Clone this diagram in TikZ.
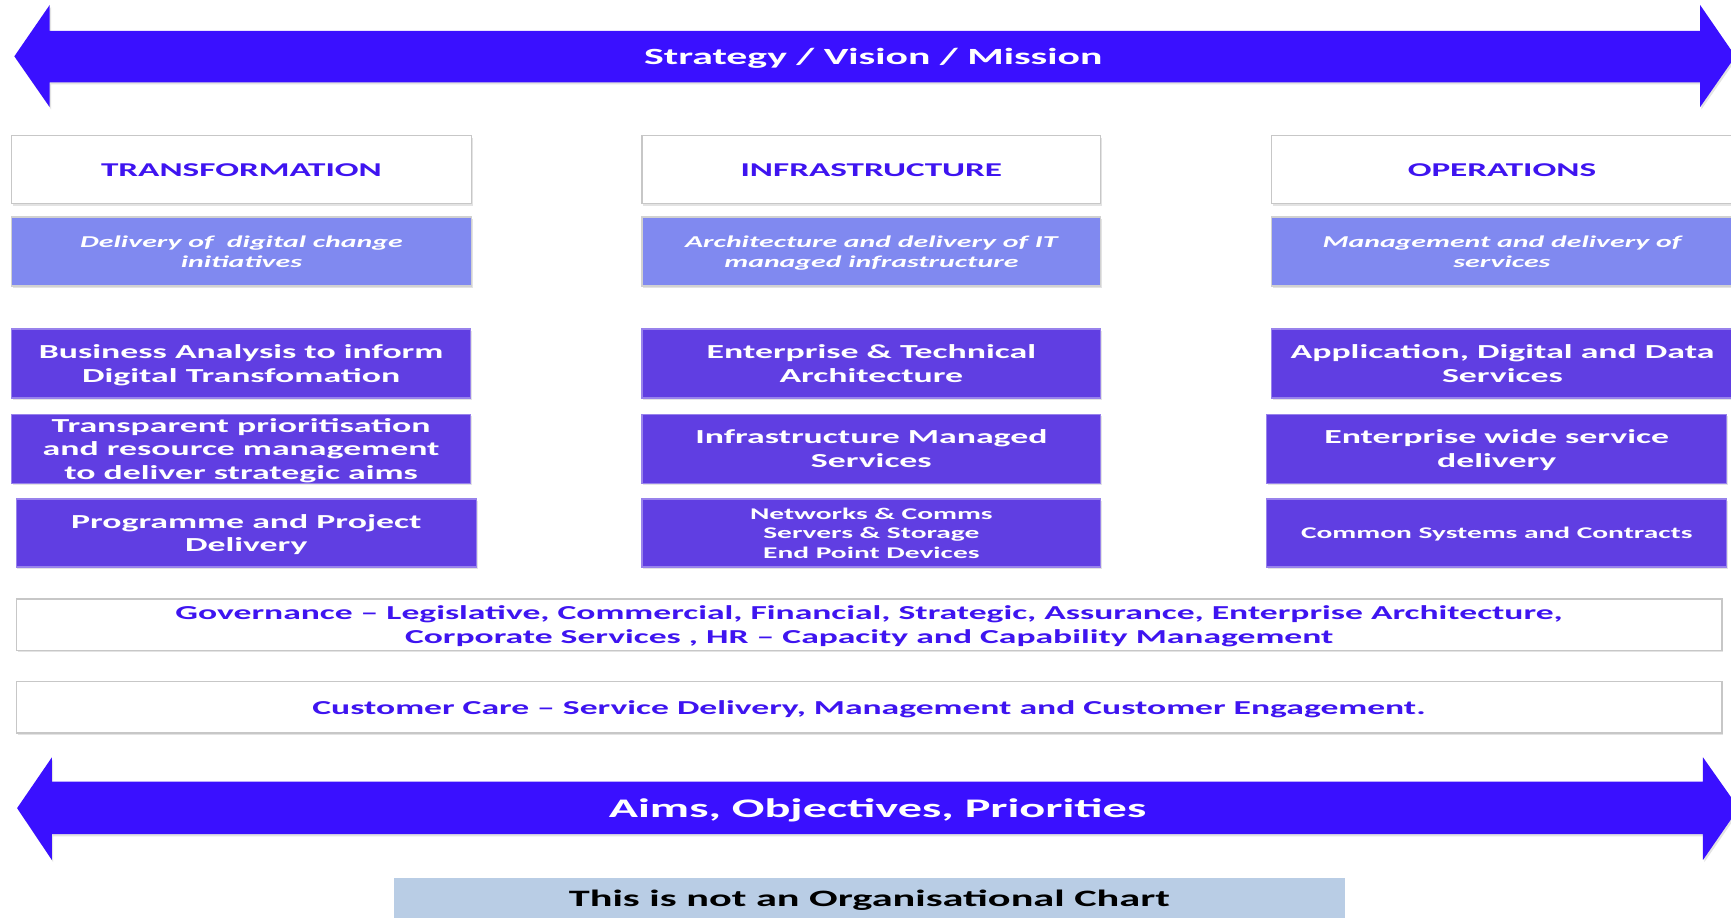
\documentclass[tikz,border=0pt]{standalone}
\usepackage{fontspec}
\setmainfont{Carlito}
% wide Calibri-like face used for every label
\newfontfamily\widefont{Carlito}[FakeStretch=1.8]
\usetikzlibrary{shadows}

\definecolor{arrowblue}{RGB}{58,16,255}
\definecolor{headblue}{RGB}{62,20,240}
\definecolor{subfill}{RGB}{128,137,240}
\definecolor{unitfill}{RGB}{96,62,226}
\definecolor{notefill}{RGB}{185,205,229}

\tikzset{
  softshadow/.style={drop shadow={shadow xshift=1.2pt, shadow yshift=-2pt, opacity=0.18, fill=black!60}},
  anybox/.style={inner sep=0pt, align=center, text depth=0pt, softshadow},
  headbox/.style={anybox, draw=black!22, line width=1pt, fill=white, minimum height=62pt,
    text=headblue, font=\widefont\bfseries\fontsize{17.7}{21}\selectfont},
  subbox/.style={anybox, draw=black!18, line width=1pt, fill=subfill, minimum height=62.5pt,
    text=white, font=\widefont\bfseries\itshape\fontsize{15}{18}\selectfont},
  unitbox/.style={anybox, draw=unitfill!65!white, line width=1pt, fill=unitfill, minimum height=62.5pt,
    text=white, font=\widefont\bfseries\fontsize{18}{21.2}\selectfont},
  smallunit/.style={unitbox, font=\widefont\bfseries\fontsize{14.8}{17.5}\selectfont},
  bandbox/.style={anybox, draw=black!22, line width=1pt, fill=white, minimum width=1545pt, minimum height=46.3pt,
    text=headblue, font=\widefont\bfseries\fontsize{17.9}{21.6}\selectfont},
  bigarrow/.style={fill=arrowblue, softshadow},
  arrowtext/.style={text=white, inner sep=0pt, text depth=0pt, font=\widefont\bfseries\fontsize{21}{25}\selectfont},
}

\begin{document}
\begin{tikzpicture}[x=1pt,y=-1pt]
\useasboundingbox (0,0) rectangle (1568,831);
\fill[white] (0,0) rectangle (1568,831);

% top double arrow
\fill[bigarrow] (13,51) -- (45,4.5) -- (45,28) -- (1540,28) -- (1540,4.5) -- (1572,51)
  -- (1540,97) -- (1540,74.5) -- (45,74.5) -- (45,97) -- cycle;
\node[arrowtext] (strategy) at (791,51) {Strategy / Vision / Mission};

% column headers
\node[headbox, minimum width=416.6pt] (hTrans) at (218.7,153.7) {TRANSFORMATION};
\node[headbox, minimum width=415.5pt] (hInfra) at (789.3,153.7) {INFRASTRUCTURE};
\node[headbox, minimum width=417pt]   (hOps)   at (1360.5,153.7) {OPERATIONS};

% column descriptions
\node[subbox, minimum width=416.6pt] (sTrans) at (218.7,227.8) {Delivery of~ digital change\\initiatives};
\node[subbox, minimum width=415.5pt] (sInfra) at (789.3,227.8) {Architecture and delivery of IT\\managed infrastructure};
\node[subbox, minimum width=417pt]   (sOps)   at (1360.5,227.8) {Management and delivery of\\services};

% transformation units
\node[unitbox, minimum width=416pt] (t1) at (218.4,329.3) {Business Analysis to inform\\Digital Transfomation};
\node[unitbox, minimum width=416pt] (t2) at (218.4,406.4) {Transparent prioritisation\\and resource management\\to deliver strategic aims};
\node[unitbox, minimum width=417pt, minimum height=61.6pt] (t3) at (223.1,482.8) {Programme and Project\\Delivery};

% infrastructure units
\node[unitbox, minimum width=415.5pt] (i1) at (789.3,329.3) {Enterprise \& Technical\\Architecture};
\node[unitbox, minimum width=415.5pt] (i2) at (789.3,406.4) {Infrastructure Managed\\Services};
\node[smallunit, minimum width=415.5pt, minimum height=61.6pt] (i3) at (789.3,482.8) {Networks \& Comms\\Servers \& Storage\\End Point Devices};

% operations units
\node[unitbox, minimum width=418pt] (o1) at (1361,329.3) {Application, Digital and Data\\Services};
\node[unitbox, minimum width=416.4pt] (o2) at (1355.8,406.4) {Enterprise wide service\\delivery};
\node[smallunit, minimum width=416.4pt, minimum height=61.6pt] (o3) at (1355.8,482.8) {Common Systems and Contracts};

% cross-cutting bands
\node[bandbox] (gov) at (787.3,565.7) {Governance – Legislative, Commercial, Financial, Strategic, Assurance, Enterprise Architecture,\\Corporate Services , HR – Capacity and Capability Management};
\node[bandbox] (care) at (787.3,640.8) {Customer Care – Service Delivery, Management and Customer Engagement.};

% bottom double arrow
\fill[bigarrow] (15.5,732) -- (47,686) -- (47,708) -- (1542.6,708) -- (1542.6,686) -- (1575,732)
  -- (1542.6,779) -- (1542.6,755.6) -- (47,755.6) -- (47,779) -- cycle;
\node[arrowtext, font=\widefont\bfseries\fontsize{24.3}{29}\selectfont] (aims) at (795,732) {Aims, Objectives, Priorities};

% footnote banner
\node[fill=notefill, minimum width=861pt, minimum height=37.2pt, inner sep=0pt, text depth=0pt,
  font=\widefont\bfseries\fontsize{21.3}{25}\selectfont, text=black] (note) at (787.5,813.6) {This is not an Organisational Chart};
\end{tikzpicture}
\end{document}
